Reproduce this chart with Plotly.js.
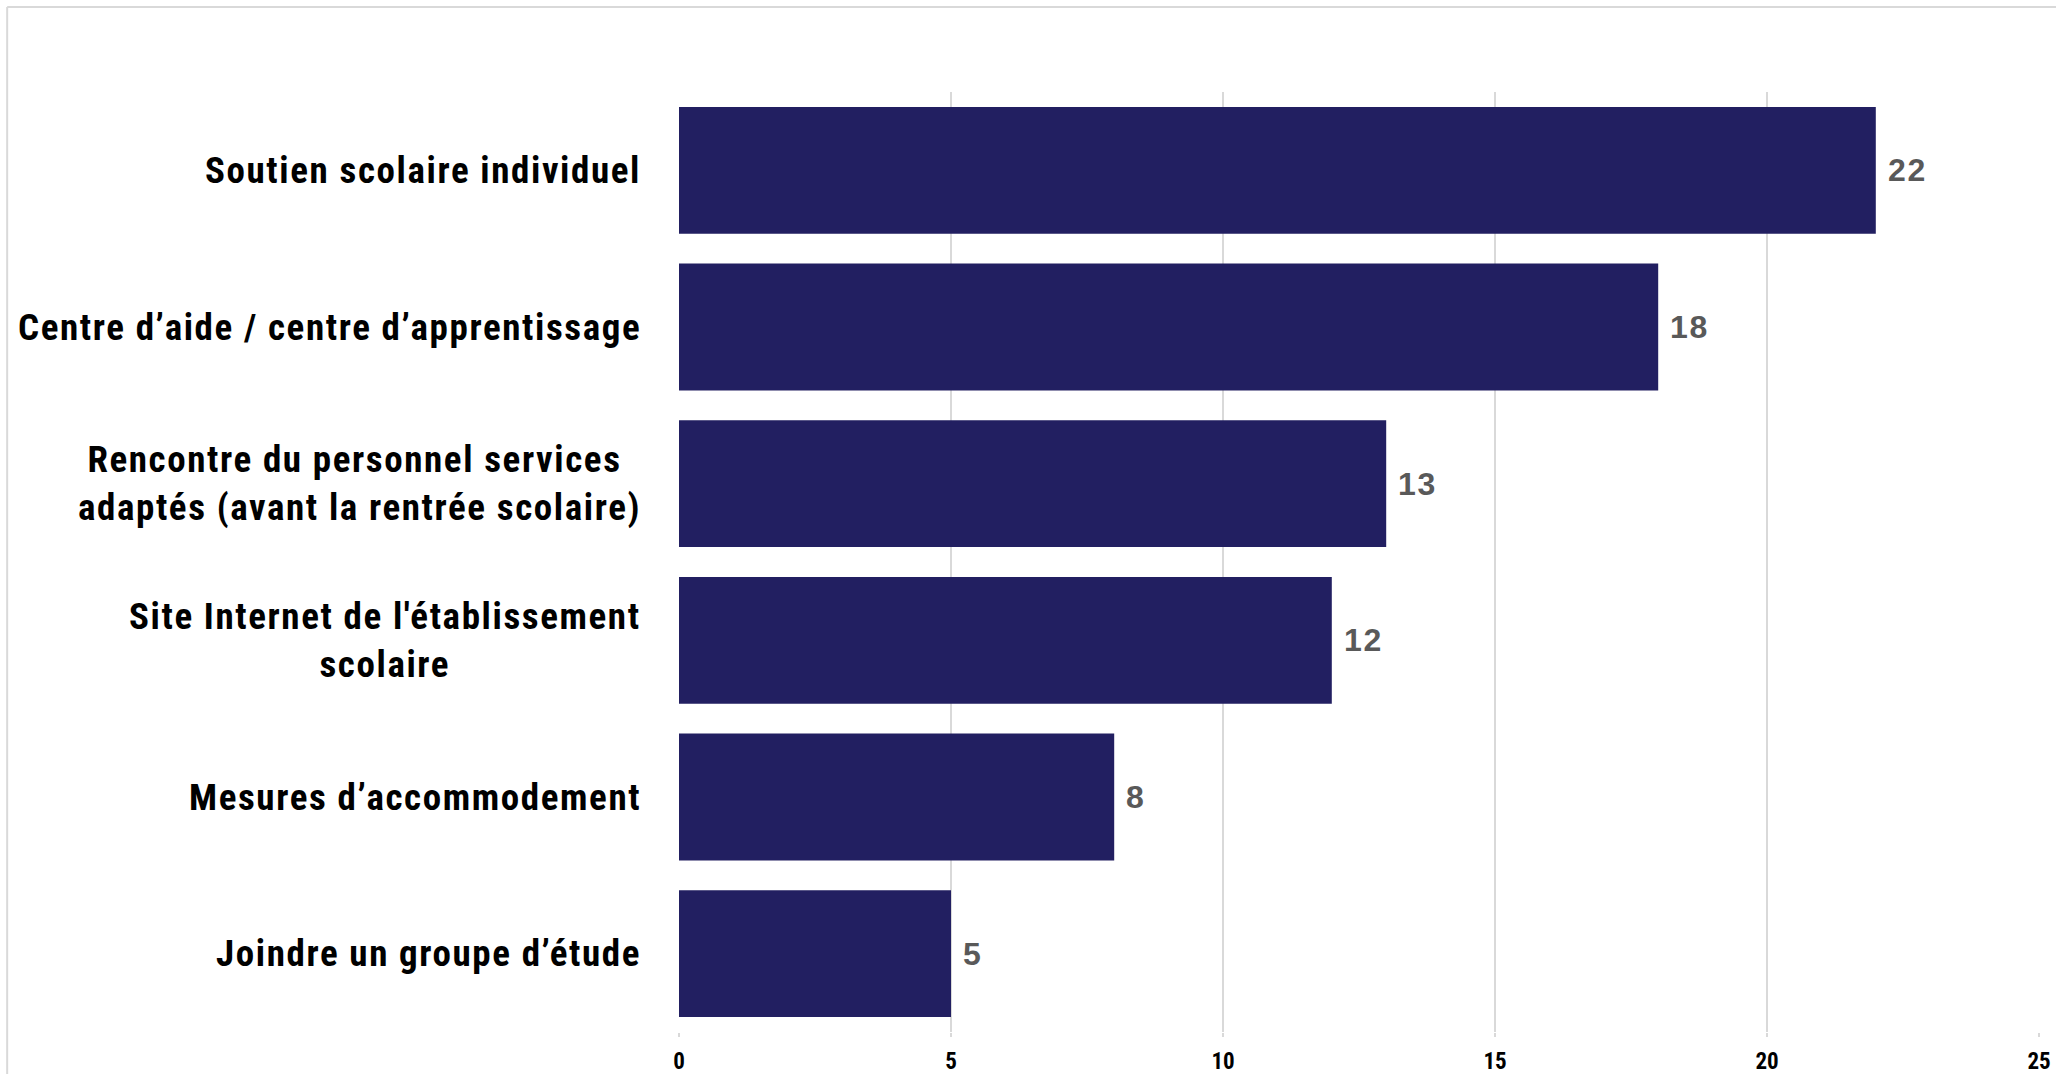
<!DOCTYPE html>
<html>
<head>
<meta charset="utf-8">
<script src="https://cdn.plot.ly/plotly-3.0.1.min.js"></script>
<style>
  html, body { margin: 0; padding: 0; background: #ffffff; }
  #chart { width: 2056px; height: 1074px; }
  text.annotation-text { letter-spacing: 1.6px; }
</style>
</head>
<body>
<div id="chart"></div>
<script>
const categories = [
  "Soutien scolaire individuel",
  "Centre d’aide / centre d’apprentissage",
  "Rencontre du personnel services <br>adaptés (avant la rentrée scolaire)",
  "Site Internet de l'établissement<br>scolaire",
  "Mesures d’accommodement",
  "Joindre un groupe d’étude"
];
const values = [22, 18, 13, 12, 8, 5];
const xTicks = [0, 5, 10, 15, 20, 25];

const narrow = "Roboto Condensed, Open Sans Condensed, sans-serif";

const trace = {
  type: "bar",
  orientation: "h",
  y: categories,
  x: values,
  marker: { color: "#221f61", line: { width: 0 } },
  hoverinfo: "skip"
};

const catLabels = categories.map(c => ({
  xref: "paper", yref: "y",
  x: 0, y: c,
  xanchor: "right", yanchor: "middle",
  xshift: -36,
  align: "center",
  showarrow: false,
  text: c,
  font: { family: narrow, size: 37, color: "#000000", weight: "bold" }
}));

const valueLabels = categories.map((c, i) => ({
  xref: "x", yref: "y",
  x: values[i], y: c,
  xanchor: "left", yanchor: "middle",
  xshift: 10,
  showarrow: false,
  text: String(values[i]),
  font: { family: "Liberation Sans, Arial, sans-serif", size: 32, color: "#595959", weight: "bold" }
}));

const layout = {
  width: 2056,
  height: 1074,
  margin: { l: 679, r: 17, t: 92, b: 42, autoexpand: false },
  paper_bgcolor: "#ffffff",
  plot_bgcolor: "#ffffff",
  showlegend: false,
  bargap: 0.19,
  xaxis: {
    range: [0, 25],
    tickvals: xTicks,
    ticktext: xTicks.map(String),
    showgrid: true,
    gridcolor: "#d9d9d9",
    gridwidth: 2,
    zeroline: false,
    showline: false,
    ticks: "outside",
    ticklen: 4,
    tickwidth: 2,
    tickcolor: "#d9d9d9",
    ticklabelstandoff: 4,
    tickfont: { family: narrow, size: 23, color: "#000000", weight: "bold" },
    fixedrange: true
  },
  yaxis: {
    type: "category",
    autorange: "reversed",
    showticklabels: false,
    showgrid: false,
    zeroline: false,
    showline: false,
    fixedrange: true
  },
  annotations: catLabels.concat(valueLabels),
  shapes: [
    { type: "line", xref: "paper", yref: "paper", x0: -0.494, x1: 1.02, y0: 1.0904, y1: 1.0904,
      line: { color: "#d9d9d9", width: 2 } },
    { type: "line", xref: "paper", yref: "paper", x0: -0.494, x1: -0.494, y0: -0.06, y1: 1.0904,
      line: { color: "#d9d9d9", width: 2 } }
  ]
};

Plotly.newPlot("chart", [trace], layout, { displayModeBar: false, staticPlot: true });
</script>
</body>
</html>
